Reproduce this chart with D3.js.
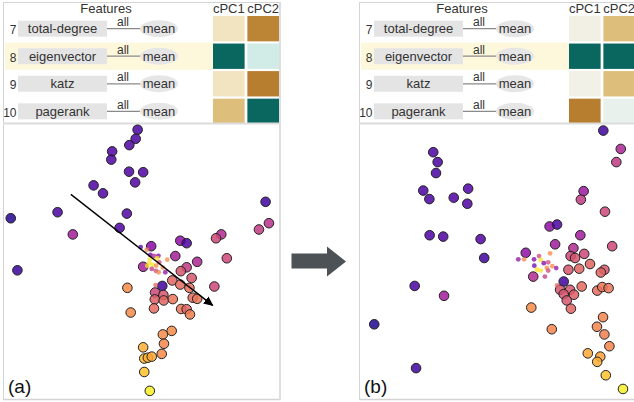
<!DOCTYPE html>
<html><head><meta charset="utf-8">
<script src="https://cdn.jsdelivr.net/npm/d3@7"></script>
<style>
html,body{margin:0;padding:0;background:#fff;}
svg{display:block;font-family:"Liberation Sans",Arial,sans-serif;}
</style></head>
<body>
<svg id="chart" width="634" height="402"></svg>
<script>
// ---------- data ----------
const featureIds = ["7","8","9","10"];
const featureNames = ["total-degree","eigenvector","katz","pagerank"];
const highlightFeature = "8";
const pcNames = ["cPC1","cPC2"];
// loadings (-1..1) mapped to BrBG
const loadA_pc1 = [-0.2, 0.8, -0.2, -0.4];
const loadA_pc2 = [-0.6, 0.15, -0.62, 0.8];
const loadB_pc1 = [-0.05, 0.8, -0.03, -0.62];
const loadB_pc2 = [-0.4, 0.8, -0.4, 0.04];

// scatter (a): x, y (0..100 projection units), colour value t (plasma)
const aX = [48.6,47.9,45.6,39.4,39.1,45.5,50.6,47.7,32.7,36.1,94.8,2.8,19.7,44.7,96.0,92.4,25.2,42.1,5.2,53.5,64.0,66.3,78.8,76.9,80.8,62.2,70.1,50.6,66.3,64.2,68.1,61.1,64.0,76.3,57.5,67.3,44.9,54.9,57.9,54.8,58.0,61.3,68.5,70.1,54.5,64.3,66.3,67.5,46.1,60.9,57.7,58.1,50.6,57.3,51.0,52.3,53.7,51.0,53.0];
const aY = [97.9,94.6,92.3,90.0,87.0,82.6,82.4,78.7,77.6,74.7,71.6,65.6,67.8,67.3,63.8,61.5,59.7,62.1,46.6,55.4,57.4,56.5,59.7,58.3,51.0,51.8,49.7,47.9,47.7,46.3,43.8,42.9,41.4,40.7,40.9,40.2,40.2,38.5,37.6,36.0,35.6,36.1,36.6,36.2,32.7,32.5,32.4,30.5,31.2,24.5,23.2,19.8,18.5,16.1,14.4,14.7,15.1,9.5,2.6];
const aT = [0.12,0.12,0.13,0.13,0.13,0.13,0.13,0.14,0.13,0.13,0.1,0.04,0.12,0.14,0.42,0.46,0.35,0.13,0.08,0.28,0.3,0.12,0.4,0.5,0.5,0.36,0.38,0.36,0.45,0.55,0.55,0.6,0.62,0.5,0.1,0.63,0.72,0.5,0.55,0.58,0.6,0.65,0.62,0.65,0.62,0.65,0.6,0.68,0.72,0.72,0.72,0.7,0.82,0.72,0.85,0.83,0.8,0.87,0.97];
const aSmallX = [49.7,51.9,53.2,54.5,56.1,53.1,55.7,59.3,52.8,54.0,52.1,55.3,56.4,57.7,53.7,55.2,58.6,56.2,55.1];
const aSmallY = [55.1,54.1,52.2,51.9,51.9,50.7,51.0,50.5,49.3,48.6,48.3,48.3,49.5,47.6,47.1,46.4,45.9,45.9,41.2];
const aSmallT = [0.15,0.7,0.2,0.4,0.25,0.95,0.95,0.72,0.95,0.95,0.95,0.72,0.5,0.72,0.45,0.5,0.3,0.7,0.6];
const aArrowX = [24.5, 75.7];
const aArrowY = [74.3, 33.8];

// scatter (b)
const bX = [88.2,94.5,92.9,26.8,28.4,27.8,23.2,25.4,34.2,39.4,39.1,81.1,80.1,88.8,25.5,30.4,43.9,45.2,68.8,71.5,79.9,70.8,91.4,60.2,77.4,81.3,76.4,78.0,83.4,75.6,79.5,88.6,87.3,62.9,73.9,80.4,72.6,76.2,73.9,77.6,86.0,87.8,90.1,75.0,76.5,20.1,30.7,62.2,69.6,88.1,85.9,88.6,90.4,82.6,87.1,86.0,89.1,95.3,5.5,20.6];
const bY = [97.6,90.9,86.1,89.7,86.1,82.1,75.7,72.6,73.1,76.4,70.9,75.5,72.4,68.0,59.4,58.9,58.0,51.1,62.6,63.3,59.4,56.1,55.4,53.0,54.7,52.6,51.8,51.1,48.9,46.8,47.2,46.8,45.8,44.3,42.5,40.7,39.5,39.5,37.9,37.7,39.2,40.5,40.1,35.6,32.6,40.9,37.3,33.0,25.1,29.5,26.0,23.2,18.9,16.3,15.1,13.2,8.3,3.3,26.9,10.9];
const bT = [0.1,0.38,0.45,0.12,0.12,0.12,0.12,0.12,0.13,0.14,0.14,0.33,0.45,0.5,0.13,0.13,0.14,0.1,0.3,0.12,0.35,0.35,0.5,0.3,0.4,0.5,0.5,0.55,0.6,0.55,0.6,0.55,0.6,0.4,0.1,0.62,0.55,0.55,0.55,0.58,0.62,0.65,0.65,0.55,0.6,0.12,0.35,0.72,0.7,0.7,0.7,0.68,0.7,0.8,0.78,0.82,0.87,0.97,0.03,0.1];
const bSmallX = [57.5,59.6,63.2,65.0,65.6,69.0,68.3,66.7,63.3,64.2,65.6,67.8,69.8,71.2,67.1,68.3,71.5];
const bSmallY = [50.6,50.6,50.6,51.8,50.4,52.8,49.5,49.2,48.3,46.8,46.5,47.5,48.1,47.4,44.3,46.5,41.1];
const bSmallT = [0.3,0.7,0.25,0.5,0.95,0.72,0.5,0.25,0.2,0.95,0.95,0.72,0.72,0.3,0.45,0.5,0.6];

const panelLabels = ["(a)","(b)"];

// ---------- drawing ----------
const svg = d3.select("#chart");
const panels = [
  {ox:3, label:panelLabels[0], pc1:loadA_pc1, pc2:loadA_pc2, X:aX, Y:aY, T:aT, sX:aSmallX, sY:aSmallY, sT:aSmallT, arrow:true},
  {ox:359, label:panelLabels[1], pc1:loadB_pc1, pc2:loadB_pc2, X:bX, Y:bY, T:bT, sX:bSmallX, sY:bSmallY, sT:bSmallT, arrow:false}
];

const defs = svg.append("defs");
defs.append("marker").attr("id","ah").attr("viewBox","0 0 10 10").attr("refX",9).attr("refY",5)
  .attr("markerWidth",7).attr("markerHeight",7).attr("orient","auto")
  .append("path").attr("d","M0,0.5 L10,5 L0,9.5 Z").attr("fill","#000");

const color = t => d3.interpolateBrBG((t+1)/2);

panels.forEach(p => {
  const g = svg.append("g").attr("transform",`translate(${p.ox},0)`);
  const W = 277;
  // table
  const yRow = d3.scaleBand().domain(featureIds).range([16,124]).paddingInner(0.08);
  const xPC = d3.scaleBand().domain(pcNames).range([210,276]).paddingInner(0.08);
  // highlight
  g.append("rect").attr("x",2).attr("y",yRow(highlightFeature)-1)
    .attr("width",xPC(pcNames[0])-2).attr("height",yRow.bandwidth()+2).attr("fill","#fdf8dc");
  g.append("text").attr("x",103).attr("y",12.5).attr("text-anchor","middle")
    .attr("font-size",13).attr("fill","#333").text("Features");
  pcNames.forEach(n => g.append("text").attr("x",xPC(n)+xPC.bandwidth()/2).attr("y",13)
    .attr("text-anchor","middle").attr("font-size",13).attr("fill","#333").text(n));
  featureIds.forEach((id,i) => {
    const cy = yRow(id)+yRow.bandwidth()/2;
    g.append("text").attr("x",13.5).attr("y",cy+5.5).attr("text-anchor","end")
      .attr("font-size",12).attr("fill","#333").text(id);
    g.append("rect").attr("x",15).attr("y",cy-8).attr("width",89).attr("height",16).attr("fill","#e4e4e4");
    g.append("text").attr("x",59.5).attr("y",cy+4.5).attr("text-anchor","middle")
      .attr("font-size",13).attr("fill","#333").text(featureNames[i]);
    g.append("line").attr("x1",104).attr("x2",138).attr("y1",cy).attr("y2",cy)
      .attr("stroke","#8a8a8a").attr("stroke-width",1.2);
    g.append("text").attr("x",120).attr("y",cy-2.5).attr("text-anchor","middle")
      .attr("font-size",12).attr("fill","#333").text("all");
    g.append("ellipse").attr("cx",156).attr("cy",cy).attr("rx",19).attr("ry",8.5).attr("fill","#e6e6e6");
    g.append("text").attr("x",156).attr("y",cy+4.5).attr("text-anchor","middle")
      .attr("font-size",13).attr("fill","#333").text("mean");
    g.append("rect").attr("x",xPC(pcNames[0])).attr("y",yRow(id)).attr("width",xPC.bandwidth())
      .attr("height",yRow.bandwidth()).attr("fill",color(p.pc1[i]));
    g.append("rect").attr("x",xPC(pcNames[1])).attr("y",yRow(id)).attr("width",xPC.bandwidth())
      .attr("height",yRow.bandwidth()).attr("fill",color(p.pc2[i]));
  });
  // borders
  g.append("line").attr("x1",0).attr("x2",W).attr("y1",2.5).attr("y2",2.5).attr("stroke","#d4d4d4").attr("stroke-width",1);
  g.append("line").attr("x1",0.5).attr("x2",0.5).attr("y1",2).attr("y2",400).attr("stroke","#d4d4d4").attr("stroke-width",1);
  g.append("line").attr("x1",0).attr("x2",W).attr("y1",123.5).attr("y2",123.5).attr("stroke","#dcdcdc").attr("stroke-width",2);
  g.append("line").attr("x1",0).attr("x2",W).attr("y1",399.5).attr("y2",399.5).attr("stroke","#d4d4d4").attr("stroke-width",1.5);
  g.append("line").attr("x1",W).attr("x2",W).attr("y1",2).attr("y2",400).attr("stroke","#dedede").attr("stroke-width",2);

  // scatter
  const x = d3.scaleLinear().domain([0,100]).range([0,W]);
  const y = d3.scaleLinear().domain([0,100]).range([398,124]);
  const big = p.X.map((v,i)=>({x:v,y:p.Y[i],t:p.T[i]}));
  const small = p.sX.map((v,i)=>({x:v,y:p.sY[i],t:p.sT[i]}));
  g.append("g").selectAll("circle").data(big).join("circle")
    .attr("cx",d=>x(d.x)).attr("cy",d=>y(d.y)).attr("r",4.8)
    .attr("fill",d=>d3.interpolatePlasma(d.t)).attr("fill-opacity",0.85)
    .attr("stroke","#222").attr("stroke-width",1);
  g.append("g").selectAll("circle").data(small).join("circle")
    .attr("cx",d=>x(d.x)).attr("cy",d=>y(d.y)).attr("r",2.4)
    .attr("fill",d=>d3.interpolatePlasma(d.t)).attr("fill-opacity",0.75);
  if (p.arrow) {
    g.append("line").attr("x1",x(aArrowX[0])).attr("y1",y(aArrowY[0]))
      .attr("x2",x(aArrowX[1])).attr("y2",y(aArrowY[1]))
      .attr("stroke","#000").attr("stroke-width",1.4).attr("marker-end","url(#ah)");
  }
  g.append("text").attr("x",5).attr("y",393).attr("font-size",19).attr("fill","#111").text(p.label);
});

// middle arrow
svg.append("path")
  .attr("d","M291.5,253.5 L327,253.5 L327,246.5 L346,261.5 L327,276.5 L327,268.5 L291.5,268.5 Z")
  .attr("fill","#4d5257");
</script>
</body></html>
